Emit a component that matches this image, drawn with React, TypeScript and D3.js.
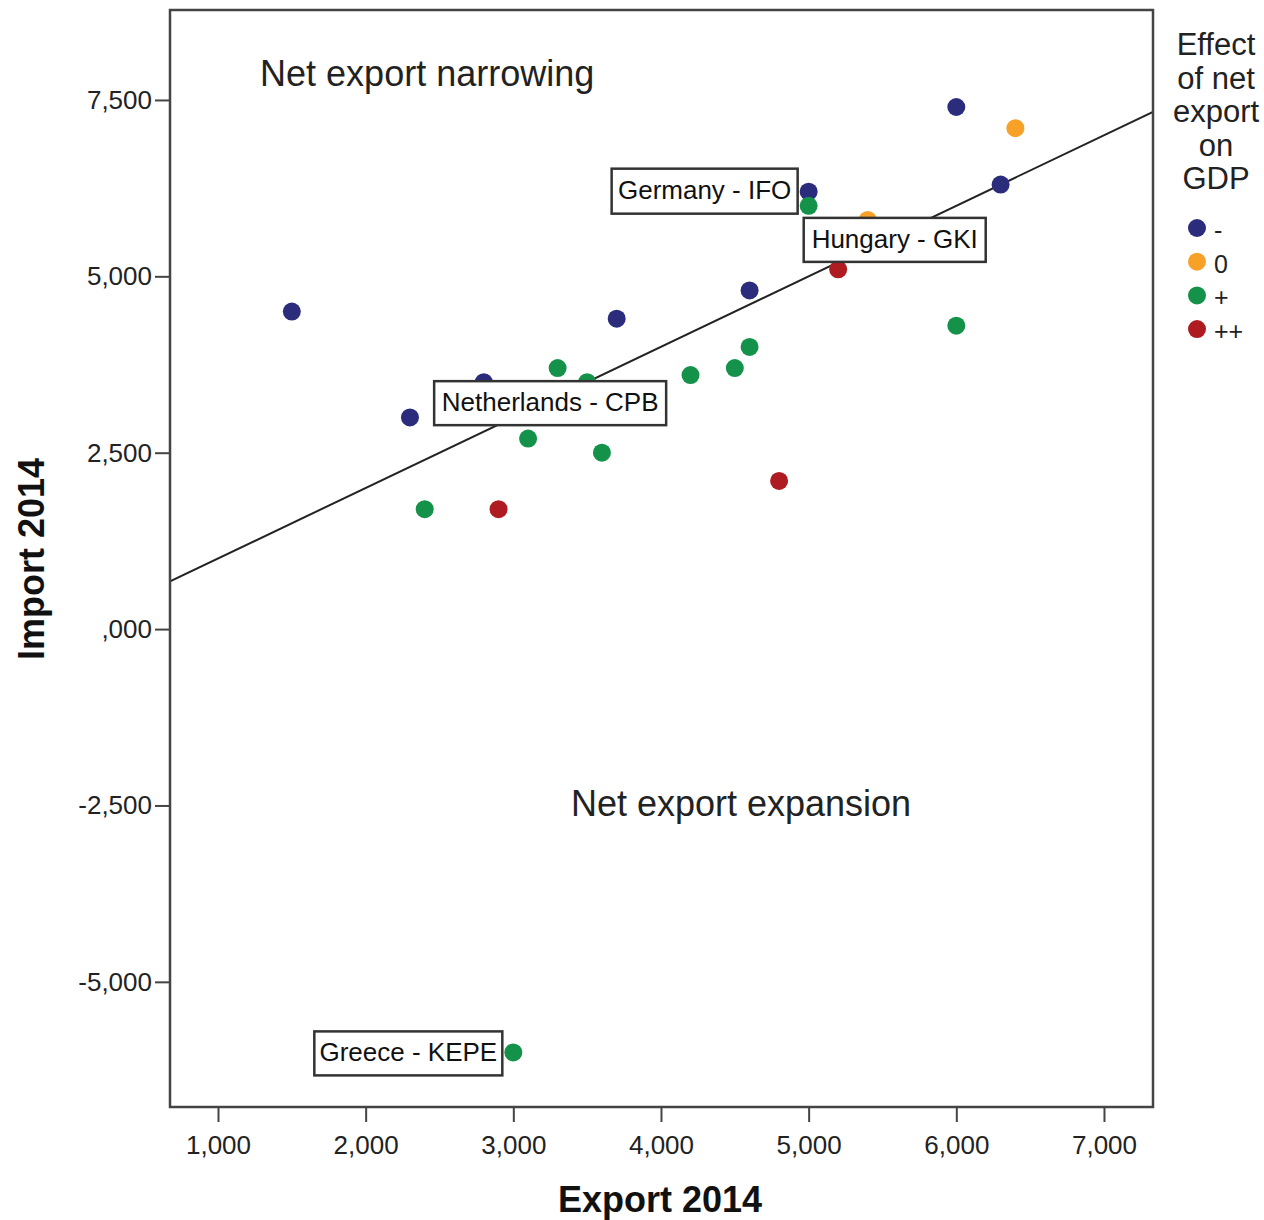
import React, { useEffect, useRef } from 'react';
import * as d3 from 'd3';

// Export 2014 / Import 2014 by group (effect of net export on GDP)
const groups = ['-', '0', '+', '++'];
const groupColors = ['#2b2c7c', '#f7a128', '#15924a', '#ae1c22'];

const minusExport = [1500, 2300, 2800, 3700, 4600, 5000, 6000, 6300];
const minusImport = [4500, 3000, 3500, 4400, 4800, 6200, 7400, 6300];

const zeroExport = [5400, 6400];
const zeroImport = [5800, 7100];

const plusExport = [2400, 3100, 3300, 3500, 3600, 4200, 4500, 4600, 5000, 6000, 3000];
const plusImport = [1700, 2700, 3700, 3500, 2500, 3600, 3700, 4000, 6000, 4300, -6000];

const plusPlusExport = [2900, 4800, 5200];
const plusPlusImport = [1700, 2100, 5100];

const xTicks = [1000, 2000, 3000, 4000, 5000, 6000, 7000];
const yTicks = [7500, 5000, 2500, 0, -2500, -5000];

// labelled institutes
const labelNames = ['Germany - IFO', 'Hungary - GKI', 'Netherlands - CPB', 'Greece - KEPE'];
const labelExport = [5000, 5400, 3500, 3000];
const labelImport = [6200, 5800, 3500, -6000];

const W = 1264, H = 1220;
const margin = { left: 170, top: 10, right: 111, bottom: 113 };

const App = () => {
  const ref = useRef<SVGSVGElement>(null);

  useEffect(() => {
    const svg = d3.select(ref.current);
    svg.selectAll('*').remove();

    const x = d3.scaleLinear().domain([675, 7332]).range([margin.left, W - margin.right]);
    const y = d3.scaleLinear().domain([-6774, 8775]).range([H - margin.bottom, margin.top]);
    const font = 'Arial, "Liberation Sans", sans-serif';
    const comma = d3.format(',');
    const fmt = (v: number) => comma(v).replace('\u2212', '-');

    const series = [
      { xs: minusExport, ys: minusImport },
      { xs: zeroExport, ys: zeroImport },
      { xs: plusExport, ys: plusImport },
      { xs: plusPlusExport, ys: plusPlusImport },
    ];

    // y = x reference line (net export unchanged)
    svg.append('defs').append('clipPath').attr('id', 'plotClip')
      .append('rect')
      .attr('x', margin.left).attr('y', margin.top)
      .attr('width', W - margin.left - margin.right)
      .attr('height', H - margin.top - margin.bottom);

    const [d0, d1] = x.domain();
    svg.append('line')
      .attr('clip-path', 'url(#plotClip)')
      .attr('x1', x(d0)).attr('y1', y(d0))
      .attr('x2', x(d1)).attr('y2', y(d1))
      .attr('stroke', '#222').attr('stroke-width', 2);

    // region captions
    svg.append('text')
      .attr('x', x(1285)).attr('y', y(7700))
      .attr('font-family', font).attr('font-size', 36).attr('fill', '#222')
      .text('Net export narrowing');
    svg.append('text')
      .attr('x', x(3390)).attr('y', y(-2650))
      .attr('font-family', font).attr('font-size', 36).attr('fill', '#222')
      .text('Net export expansion');

    // points
    series.forEach((s, gi) => {
      svg.append('g').selectAll('circle')
        .data(s.xs.map((v, i) => [v, s.ys[i]]))
        .enter().append('circle')
        .attr('cx', d => x(d[0])).attr('cy', d => y(d[1]))
        .attr('r', 9)
        .attr('fill', groupColors[gi]);
    });

    // labels (box offsets relative to their point)
    const offsets = [
      { dx: -197, dy: -23, w: 186, h: 45 },
      { dx: -64, dy: -2, w: 182, h: 44 },
      { dx: -153, dy: -1, w: 232, h: 44 },
      { dx: -199, dy: -21, w: 188, h: 44 },
    ];
    labelNames.forEach((name, i) => {
      const px = x(labelExport[i]) + offsets[i].dx;
      const py = y(labelImport[i]) + offsets[i].dy;
      const g = svg.append('g');
      g.append('rect')
        .attr('x', px).attr('y', py)
        .attr('width', offsets[i].w).attr('height', offsets[i].h)
        .attr('fill', 'white').attr('stroke', '#333').attr('stroke-width', 2.5);
      g.append('text')
        .attr('x', px + offsets[i].w / 2).attr('y', py + offsets[i].h / 2 + 8)
        .attr('text-anchor', 'middle')
        .attr('font-family', font).attr('font-size', 26).attr('fill', '#111')
        .text(name);
    });

    // frame
    svg.append('rect')
      .attr('x', margin.left).attr('y', margin.top)
      .attr('width', W - margin.left - margin.right)
      .attr('height', H - margin.top - margin.bottom)
      .attr('fill', 'none').attr('stroke', '#444').attr('stroke-width', 2.5);

    // axes
    const xAxis = d3.axisBottom(x).tickValues(xTicks).tickFormat(fmt as any).tickSize(15).tickSizeOuter(0);
    const gx = svg.append('g')
      .attr('transform', `translate(0, ${H - margin.bottom})`)
      .call(xAxis);
    gx.select('.domain').remove();
    gx.selectAll('line').attr('stroke', '#444').attr('stroke-width', 2);
    gx.selectAll('text')
      .attr('font-family', font).attr('font-size', 26).attr('fill', '#222').attr('dy', '1.1em');

    const yFmt = (v: number) => (v === 0 ? ',000' : fmt(v));
    const yAxis = d3.axisLeft(y).tickValues(yTicks).tickFormat(yFmt as any).tickSize(15).tickSizeOuter(0);
    const gy = svg.append('g')
      .attr('transform', `translate(${margin.left}, 0)`)
      .call(yAxis);
    gy.select('.domain').remove();
    gy.selectAll('line').attr('stroke', '#444').attr('stroke-width', 2);
    gy.selectAll('text')
      .attr('font-family', font).attr('font-size', 26).attr('fill', '#222').attr('x', -18);

    // axis titles
    svg.append('text')
      .attr('x', 660).attr('y', 1212)
      .attr('text-anchor', 'middle')
      .attr('font-family', font).attr('font-size', 36).attr('font-weight', 'bold').attr('fill', '#111')
      .text('Export 2014');
    svg.append('text')
      .attr('transform', 'translate(44, 559) rotate(-90)')
      .attr('text-anchor', 'middle')
      .attr('font-family', font).attr('font-size', 36).attr('font-weight', 'bold').attr('fill', '#111')
      .text('Import 2014');

    // legend
    const legendTitle = ['Effect', 'of net', 'export', 'on', 'GDP'];
    const lg = svg.append('g');
    lg.selectAll('text.title')
      .data(legendTitle)
      .enter().append('text')
      .attr('class', 'title')
      .attr('x', 1216).attr('y', (d, i) => 55 + i * 33.5)
      .attr('text-anchor', 'middle')
      .attr('font-family', font).attr('font-size', 31).attr('fill', '#222')
      .text(d => d);
    const items = lg.selectAll('g.item')
      .data(groups)
      .enter().append('g')
      .attr('class', 'item')
      .attr('transform', (d, i) => `translate(1197, ${228 + i * 33.7})`);
    items.append('circle').attr('r', 9).attr('fill', (d, i) => groupColors[i]);
    items.append('text')
      .attr('x', 17).attr('y', 11)
      .attr('font-family', font).attr('font-size', 25).attr('fill', '#222')
      .text(d => d);
  }, []);

  return (
    <svg ref={ref} width={W} height={H}
      style={{ position: 'absolute', left: 0, top: 0, background: 'white' }} />
  );
};

export default App;
